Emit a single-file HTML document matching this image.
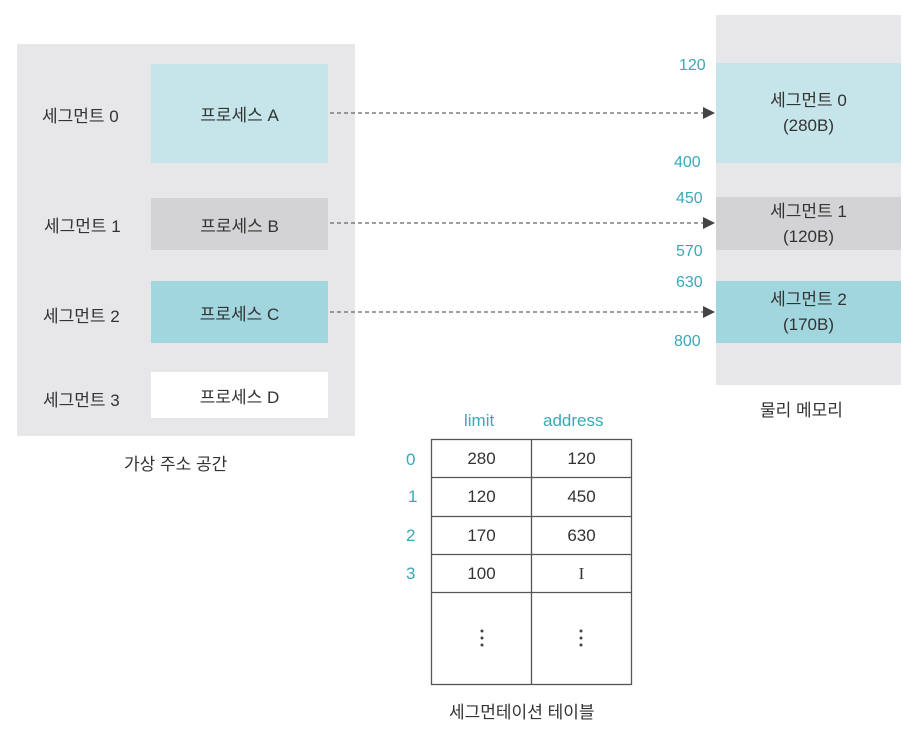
<!DOCTYPE html>
<html><head><meta charset="utf-8"><style>
body{margin:0;width:918px;height:731px;background:#fff;position:relative;overflow:hidden;font-family:"Liberation Sans","Noto Sans CJK KR",sans-serif;color:#333}
.a{position:absolute}
.c{display:flex;align-items:center;justify-content:center;text-align:center}
.t{color:#3aa8b8}
</style></head><body>
<div class="a" style="left:17px;top:44px;width:338px;height:392px;background:#e7e7e9"></div>
<div class="a c" style="left:151px;top:64px;width:177px;height:99px;background:#c5e5ea;font-size:17px">프로세스 A</div>
<div class="a c" style="left:151px;top:198px;width:177px;height:52px;background:#d3d3d5;font-size:17px">프로세스 B</div>
<div class="a c" style="left:151px;top:281px;width:177px;height:62px;background:#a1d6de;font-size:17px">프로세스 C</div>
<div class="a c" style="left:151px;top:372px;width:177px;height:46px;background:#fff;font-size:17px">프로세스 D</div>
<div class="a" style="left:42px;top:102px;font-size:17px">세그먼트 0</div>
<div class="a" style="left:44px;top:212px;font-size:17px">세그먼트 1</div>
<div class="a" style="left:43px;top:302px;font-size:17px">세그먼트 2</div>
<div class="a" style="left:43px;top:386px;font-size:17px">세그먼트 3</div>
<div class="a" style="left:124px;top:450px;font-size:17px">가상 주소 공간</div>

<div class="a" style="left:716px;top:15px;width:185px;height:370px;background:#e7e7e9"></div>
<div class="a c" style="left:716px;top:63px;width:185px;height:100px;background:#c5e5ea;font-size:17px;line-height:25px">세그먼트 0<br>(280B)</div>
<div class="a c" style="left:716px;top:197px;width:185px;height:53px;background:#d3d3d5;font-size:17px;line-height:25px">세그먼트 1<br>(120B)</div>
<div class="a c" style="left:716px;top:281px;width:185px;height:62px;background:#a1d6de;font-size:17px;line-height:25px">세그먼트 2<br>(170B)</div>
<div class="a t" style="left:679px;top:57px;font-size:16px">120</div>
<div class="a t" style="left:674px;top:154px;font-size:16px">400</div>
<div class="a t" style="left:676px;top:190px;font-size:16px">450</div>
<div class="a t" style="left:676px;top:243px;font-size:16px">570</div>
<div class="a t" style="left:676px;top:274px;font-size:16px">630</div>
<div class="a t" style="left:674px;top:333px;font-size:16px">800</div>
<div class="a" style="left:760px;top:396px;font-size:17px">물리 메모리</div>

<svg class="a" style="left:0;top:0" width="918" height="731">
<g stroke="#666" stroke-width="1.2" stroke-dasharray="4,3">
<line x1="330" y1="113" x2="704" y2="113"/>
<line x1="330" y1="223" x2="704" y2="223"/>
<line x1="330" y1="312" x2="704" y2="312"/>
</g>
<g fill="#444">
<polygon points="703,107 715,113 703,119"/>
<polygon points="703,217 715,223 703,229"/>
<polygon points="703,306 715,312 703,318"/>
</g>
<g stroke="#555" stroke-width="1.3" fill="none">
<rect x="431.5" y="439.5" width="200" height="245"/>
<line x1="531.5" y1="439" x2="531.5" y2="685"/>
<line x1="431" y1="477.5" x2="632" y2="477.5"/>
<line x1="431" y1="516.5" x2="632" y2="516.5"/>
<line x1="431" y1="554.5" x2="632" y2="554.5"/>
<line x1="431" y1="592.5" x2="632" y2="592.5"/>
</g>
<g fill="#444">
<circle cx="482" cy="631" r="1.5"/><circle cx="482" cy="638" r="1.5"/><circle cx="482" cy="645" r="1.5"/>
<circle cx="581" cy="631" r="1.5"/><circle cx="581" cy="638" r="1.5"/><circle cx="581" cy="645" r="1.5"/>
</g>
</svg>
<div class="a t" style="left:464px;top:411px;font-size:17px">limit</div>
<div class="a t" style="left:543px;top:411px;font-size:17px">address</div>
<div class="a t" style="left:406px;top:450px;font-size:17px">0</div>
<div class="a t" style="left:408px;top:487px;font-size:17px">1</div>
<div class="a t" style="left:406px;top:526px;font-size:17px">2</div>
<div class="a t" style="left:406px;top:564px;font-size:17px">3</div>
<div class="a c" style="left:432px;top:440px;width:99px;height:37px;font-size:17px">280</div>
<div class="a c" style="left:532px;top:440px;width:99px;height:37px;font-size:17px">120</div>
<div class="a c" style="left:432px;top:478px;width:99px;height:38px;font-size:17px">120</div>
<div class="a c" style="left:532px;top:478px;width:99px;height:38px;font-size:17px">450</div>
<div class="a c" style="left:432px;top:517px;width:99px;height:37px;font-size:17px">170</div>
<div class="a c" style="left:532px;top:517px;width:99px;height:37px;font-size:17px">630</div>
<div class="a c" style="left:432px;top:555px;width:99px;height:37px;font-size:17px">100</div>
<div class="a c" style="left:532px;top:555px;width:99px;height:37px;font-size:17px;font-family:'Liberation Serif',serif">I</div>
<div class="a" style="left:449px;top:698px;font-size:17px">세그먼테이션 테이블</div>
</body></html>
